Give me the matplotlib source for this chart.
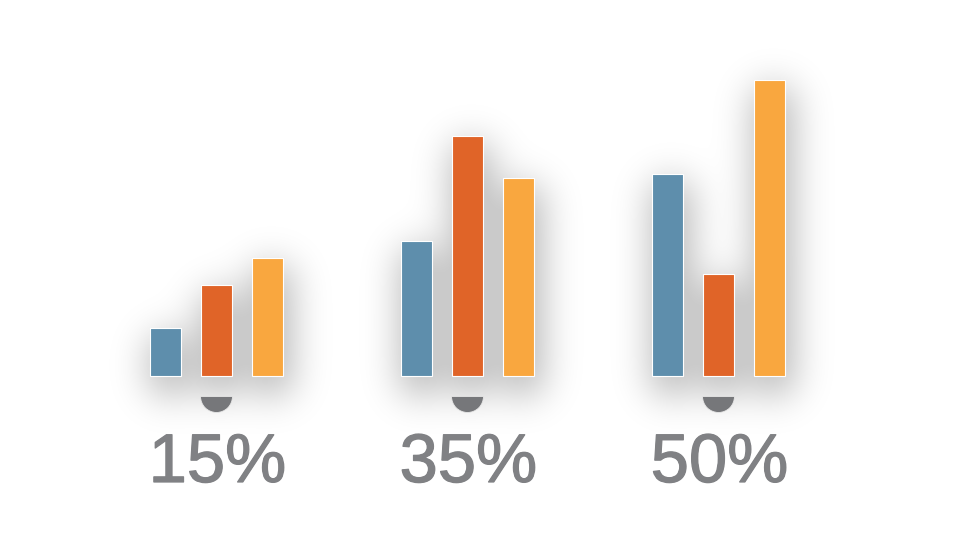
import numpy as np
import matplotlib
matplotlib.use('Agg')
import matplotlib.pyplot as plt
import matplotlib.patheffects as pe
from matplotlib.path import Path

# data
labels = ['15%', '35%', '50%']
series_a = [48, 135, 202]   # blue
series_b = [91, 240, 102]   # orange
series_c = [118, 198, 296]  # yellow
colors = ['#5e8eac', '#e06428', '#f9a73f']

W, H = 960, 550
fig = plt.figure(figsize=(9.6, 5.5), dpi=100)
ax = fig.add_axes([0, 0, 1, 1])
ax.set_xlim(-216 / 251, (960 - 216) / 251)
ax.set_ylim(-174, 376)
ax.axis('off')

x = np.arange(len(labels))
off = 51 / 251
width = 31 / 251

# shadow: blurred union of the bars, computed in pixel space
mask = np.zeros((H, W))
for dx, vals in zip([-off, 0, off], [series_a, series_b, series_c]):
    for xi, v in zip(x, vals):
        (px0, py0) = ax.transData.transform((xi + dx - width / 2, 0))
        (px1, py1) = ax.transData.transform((xi + dx + width / 2, v))
        r0, r1 = int(H - py1), int(H - py0)
        mask[r0 + 8:r1 + 18, int(px0) + 2:int(px1) + 8] = 1
sig = 19
k = np.exp(-0.5 * (np.arange(-70, 71) / sig) ** 2)
k /= k.sum()
blur = np.apply_along_axis(lambda m: np.convolve(m, k, mode='same'), 0, mask)
blur = np.apply_along_axis(lambda m: np.convolve(m, k, mode='same'), 1, blur)
rgba = np.zeros((H, W, 4))
rgba[..., 3] = np.clip(blur * 0.32, 0, 0.21)
x0, x1 = ax.get_xlim()
y0, y1 = ax.get_ylim()
ax.imshow(rgba, extent=[x0, x1, y0, y1], aspect='auto', zorder=1,
          interpolation='bilinear')
ax.set_xlim(x0, x1)
ax.set_ylim(y0, y1)

for dx, vals, c in zip([-off, 0, off], [series_a, series_b, series_c], colors):
    ax.bar(x + dx, vals, width=width, color=c, edgecolor='white',
           linewidth=0.8, zorder=2)

# half-circle markers under each group
half = Path.wedge(180, 360)
ax.plot(x, [-20] * len(x), linestyle='none', marker=half, markersize=23,
        color='#76777a', markeredgecolor='#e8e8e8', markeredgewidth=0.6, zorder=3)

for xi, lab in zip(x, labels):
    ax.text(xi + 0.006, -106, lab, ha='center', va='baseline', fontsize=49.5,
            family='Liberation Sans', color='#808184', zorder=3,
            path_effects=[pe.withStroke(linewidth=0.9, foreground='#808184')])

fig.savefig('out.png', dpi=100, facecolor='white')
